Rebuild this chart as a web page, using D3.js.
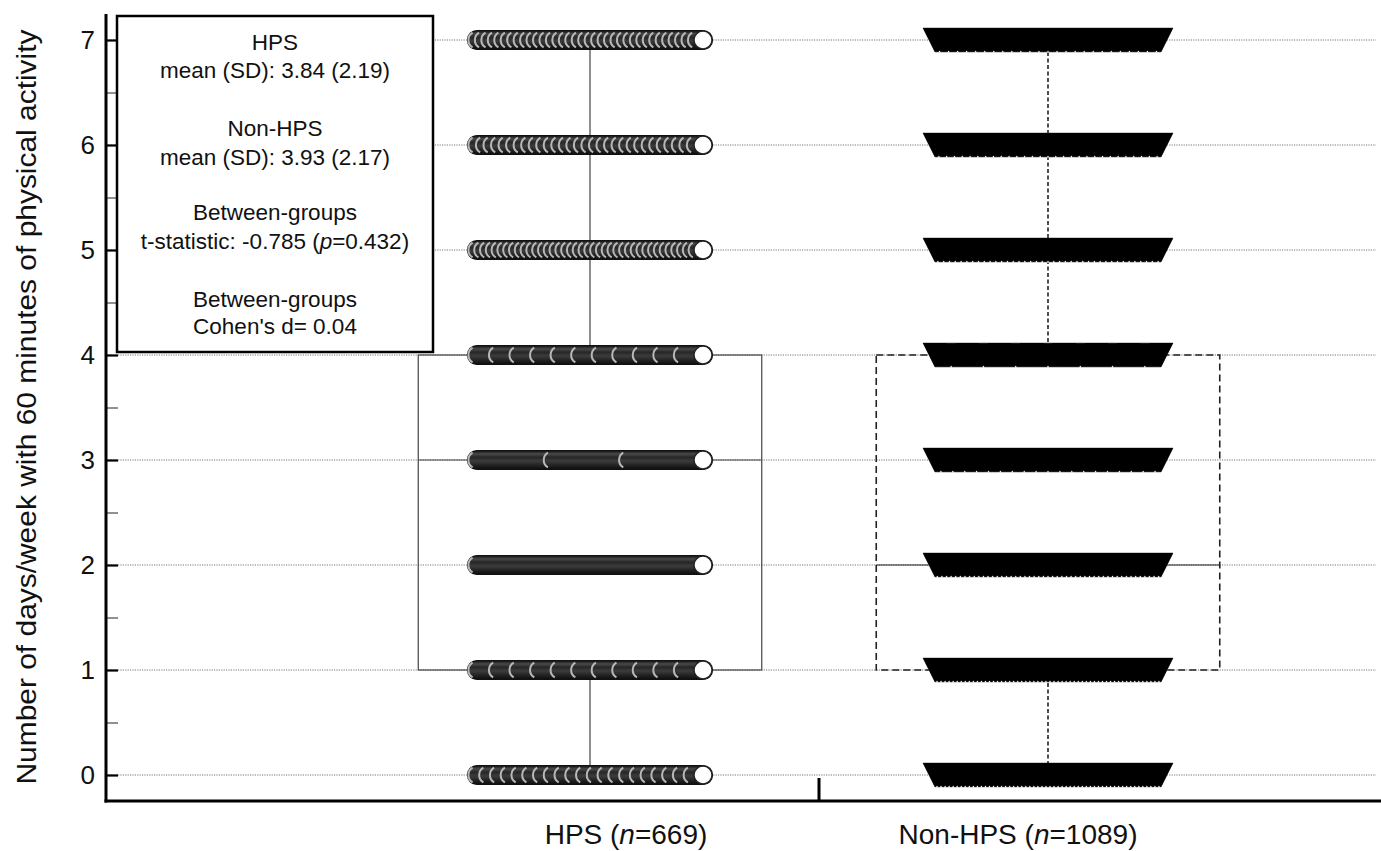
<!DOCTYPE html>
<html>
<head>
<meta charset="utf-8">
<script src="https://cdn.jsdelivr.net/npm/d3@7/dist/d3.min.js"></script>
<style>
body{margin:0;background:#fff;}
text{font-family:"Liberation Sans",Arial,sans-serif;fill:#111;}
</style>
</head>
<body>
<svg id="chart" width="1381" height="851"></svg>
<script>
///--------------------Data
var groups = ["HPS", "Non-HPS"];
var groupLabels = [["HPS (", "n", "=669)"], ["Non-HPS (", "n", "=1089)"]];
var levels = [0, 1, 2, 3, 4, 5, 6, 7];
// number of markers seen on each row (level 0 -> 7)
var hpsMarks = [22, 12, 2, 4, 12, 40, 31, 36];
var nonMarks = [57, 57, 50, 20, 8, 40, 30, 26];
// box plot : q1, median, q3, min, max
var hpsBox = [1, 3, 4, 0, 7];
var nonBox = [1, 2, 4, 0, 7];
var yTicks = [0, 1, 2, 3, 4, 5, 6, 7];
var yMinor = [0.5, 1.5, 2.5, 3.5, 4.5, 5.5, 6.5];
var legendLines = [
	["HPS"], ["mean (SD): 3.84 (2.19)"],
	["Non-HPS"], ["mean (SD): 3.93 (2.17)"],
	["Between-groups"], ["t-statistic: -0.785 (", "p", "=0.432)"],
	["Between-groups"], ["Cohen's d= 0.04"]
];

///--------------------Geometry
var axeX = 106, axeY = 801, rightEnd = 1376;
var y = d3.scaleLinear().domain([0, 7]).range([775, 40]);
var x = d3.scaleBand().domain(groups).range([361, 1277]).padding(0);
var boxW = x.bandwidth() * 0.75;
var halfRow = 113, rCirc = 9.5, triW = 12, triH = 12;

var svg = d3.select("#chart");

var defs = svg.append("defs");
var grad = defs.append("linearGradient").attr("id", "capsule").attr("x1", 0).attr("x2", 0).attr("y1", 0).attr("y2", 1);
[[0, "#0d0d0d"], [0.18, "#4a4a4a"], [0.35, "#262626"], [0.55, "#3c3c3c"], [0.78, "#222"], [1, "#0d0d0d"]].forEach(function(s){
	grad.append("stop").attr("offset", s[0]).attr("stop-color", s[1]);
});

///--------------------Grid
svg.append("g").selectAll("line").data(yTicks).enter().append("line")
	.attr("x1", axeX).attr("x2", rightEnd)
	.attr("y1", function(d){ return y(d); }).attr("y2", function(d){ return y(d); })
	.attr("stroke", "#777").attr("stroke-width", 1).attr("stroke-dasharray", "1.2,1.2");

///--------------------Boxes
function drawBox(g, b, dashed){
	var cx = x(g) + x.bandwidth() / 2;
	var gb = svg.append("g")
		.attr("fill", "none")
		.attr("stroke", dashed ? "#222" : "#444")
		.attr("stroke-width", dashed ? 1.6 : 1.2);
	gb.append("rect").attr("x", cx - boxW / 2).attr("y", y(b[2]))
		.attr("width", boxW).attr("height", y(b[0]) - y(b[2])).attr("fill", "none")
		.attr("stroke-dasharray", dashed ? "7,4" : "none");
	gb.append("line").attr("x1", cx - boxW / 2).attr("x2", cx + boxW / 2)
		.attr("y1", y(b[1])).attr("y2", y(b[1])).attr("stroke-width", 1.2).attr("stroke-dasharray", "none");
	gb.append("line").attr("x1", cx).attr("x2", cx).attr("y1", y(b[2])).attr("y2", y(b[4]))
		.attr("stroke-dasharray", dashed ? "4,2.5" : "none");
	gb.append("line").attr("x1", cx).attr("x2", cx).attr("y1", y(b[0])).attr("y2", y(b[3]))
		.attr("stroke-dasharray", dashed ? "4,2.5" : "none");
}
drawBox("HPS", hpsBox, false);
drawBox("Non-HPS", nonBox, true);

///--------------------HPS rows (circles)
var cH = x("HPS") + x.bandwidth() / 2;
levels.forEach(function(v, i){
	var n = hpsMarks[i], yy = y(v);
	var x0 = cH - halfRow, x1 = cH + halfRow;
	var row = svg.append("g");
	row.append("rect")
		.attr("x", x0 - rCirc).attr("y", yy - rCirc)
		.attr("width", x1 - x0 + 2 * rCirc).attr("height", 2 * rCirc)
		.attr("rx", rCirc).attr("ry", rCirc)
		.attr("fill", "url(#capsule)").attr("stroke", "#111").attr("stroke-width", 1.2);
	var pos = d3.range(n).map(function(k){ return n > 1 ? x0 + k * (x1 - x0) / (n - 1) : x0; });
	var ra = 8.6, dy = 7.4, dx = Math.sqrt(ra * ra - dy * dy);
	row.selectAll("path").data(pos.slice(0, -1)).enter().append("path")
		.attr("d", function(px){
			return "M" + (px - dx) + "," + (yy - dy) + " A" + ra + "," + ra + " 0 0 0 " + (px - dx) + "," + (yy + dy);
		})
		.attr("fill", "none").attr("stroke", "#b8b8b8").attr("stroke-width", 2);
	row.append("circle").attr("cx", x1).attr("cy", yy).attr("r", rCirc - 0.5)
		.attr("fill", "#fff").attr("stroke", "#222").attr("stroke-width", 1.4);
});

///--------------------Non-HPS rows (triangles)
var cN = x("Non-HPS") + x.bandwidth() / 2;
levels.forEach(function(v, i){
	var n = nonMarks[i], yy = y(v);
	var x0 = cN - halfRow, x1 = cN + halfRow;
	var row = svg.append("g");
	var pos = d3.range(n).map(function(k){ return x0 + k * (x1 - x0) / (n - 1); });
	row.append("polygon")
		.attr("points", [[x0 - triW, yy - triH], [x1 + triW, yy - triH], [x1, yy + triH], [x0, yy + triH]].join(" "))
		.attr("fill", "#000").attr("stroke", "#555").attr("stroke-width", 0.6);
	row.selectAll("polygon.tri").data(pos).enter().append("polygon").attr("class", "tri")
		.attr("points", function(px){ return [[px - triW, yy - triH], [px + triW, yy - triH], [px, yy + triH]].join(" "); })
		.attr("fill", "#000");
	// little notches between marker tips
	row.selectAll("polygon.notch").data(pos.slice(0, -1)).enter().append("polygon").attr("class", "notch")
		.attr("points", function(px, k){
			var m = (px + pos[k + 1]) / 2;
			return [[m - 1.2, yy + triH + 0.5], [m + 1.2, yy + triH + 0.5], [m, yy + triH - 1.5]].join(" ");
		})
		.attr("fill", "#fff");
});

///--------------------Axes
var axG = svg.append("g").attr("transform", "translate(" + axeX + ",0)");
axG.call(d3.axisLeft(y).tickValues(yTicks).tickSizeInner(-12).tickSizeOuter(0).tickPadding(11).tickFormat(d3.format("d")));
axG.select(".domain").remove();
axG.selectAll(".tick line").attr("stroke", "#000").attr("stroke-width", 2.2);
axG.selectAll(".tick text").attr("font-size", 26).attr("font-family", "Liberation Sans, Arial, sans-serif").attr("fill", "#111");

var axM = svg.append("g").attr("transform", "translate(" + axeX + ",0)");
axM.call(d3.axisLeft(y).tickValues(yMinor).tickSizeInner(-12).tickSizeOuter(0).tickFormat(""));
axM.select(".domain").remove();
axM.selectAll(".tick line").attr("stroke", "#222").attr("stroke-width", 1);

svg.append("line").attr("x1", axeX).attr("x2", axeX).attr("y1", 14).attr("y2", axeY + 1.5)
	.attr("stroke", "#000").attr("stroke-width", 3);
svg.append("line").attr("x1", axeX - 1.5).attr("x2", 1381).attr("y1", axeY).attr("y2", axeY)
	.attr("stroke", "#000").attr("stroke-width", 3);
// separator tick between the groups
svg.append("line").attr("x1", x("Non-HPS")).attr("x2", x("Non-HPS")).attr("y1", 778).attr("y2", axeY)
	.attr("stroke", "#000").attr("stroke-width", 3);

var labX = [626, 1018];
groups.forEach(function(g, i){
	var t = svg.append("text").attr("x", labX[i]).attr("y", 844)
		.attr("text-anchor", "middle").attr("font-size", 28);
	groupLabels[i].forEach(function(s, k){
		t.append("tspan").text(s).attr("font-style", k == 1 ? "italic" : null);
	});
});

svg.append("text")
	.attr("transform", "translate(36,407) rotate(-90)")
	.attr("text-anchor", "middle")
	.attr("font-size", 27)
	.attr("textLength", 755).attr("lengthAdjust", "spacingAndGlyphs")
	.text("Number of days/week with 60 minutes of physical activity");

///--------------------Legend box
var leg = svg.append("g");
leg.append("rect").attr("x", 117).attr("y", 16).attr("width", 316).attr("height", 336)
	.attr("fill", "#fff").attr("stroke", "#000").attr("stroke-width", 2.5);
var legY = [50, 78, 136, 165, 220, 249, 307, 334];
legendLines.forEach(function(parts, i){
	var t = leg.append("text").attr("x", 275).attr("y", legY[i])
		.attr("text-anchor", "middle").attr("font-size", 22.5);
	parts.forEach(function(s, k){
		t.append("tspan").text(s).attr("font-style", k == 1 ? "italic" : null);
	});
});
</script>
</body>
</html>
